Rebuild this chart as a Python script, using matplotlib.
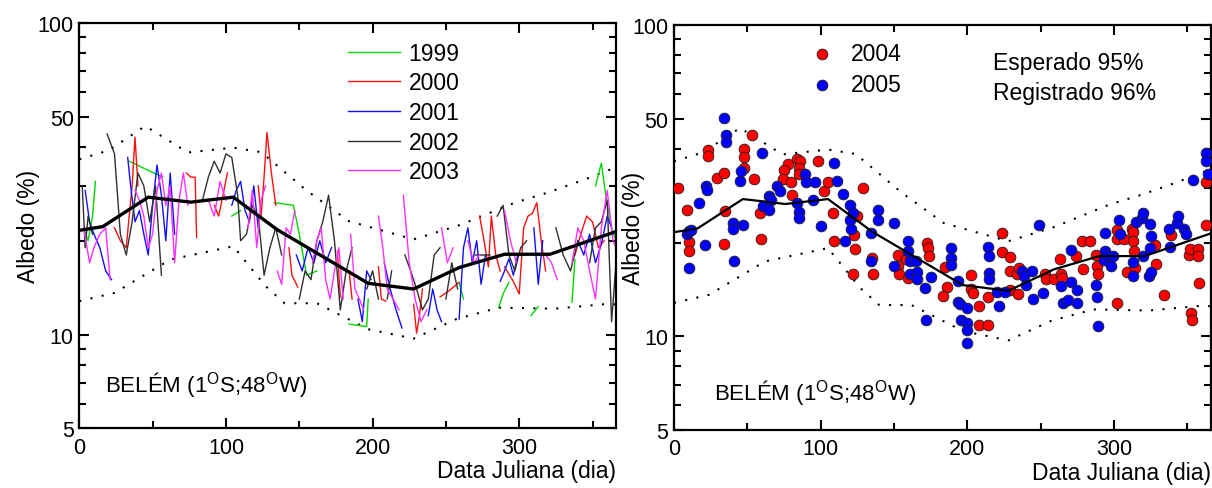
import numpy as np
import matplotlib
matplotlib.use("Agg")
import matplotlib.pyplot as plt
from matplotlib.ticker import FixedLocator, NullFormatter, FixedFormatter

plt.rcParams['font.family'] = ['Liberation Sans', 'DejaVu Sans']
plt.rcParams['mathtext.fontset'] = 'custom'
plt.rcParams['mathtext.rm'] = 'Liberation Sans'

nan = np.nan

# ---- mean curve and envelopes (day, albedo %) ----
mean_days = [0, 16, 47, 76, 105, 135, 197, 228, 259, 290, 321, 366]
mean_vals = [21.6, 22.2, 27.6, 26.6, 27.6, 21.7, 14.6, 14.0, 16.4, 18.1, 18.1, 21.4]

upper_days = [0, 20, 45, 74, 105, 124, 155, 184, 228, 260, 297, 319, 345, 366]
upper_vals = [36.5, 39.0, 46.7, 38.4, 39.8, 38.5, 29.0, 23.1, 20.2, 22.5, 26.5, 28.5, 31.5, 34.4]

lower_days = [0, 24, 62, 105, 127, 140, 162, 197, 228, 257, 286, 324, 357, 366]
lower_vals = [12.8, 13.6, 17.4, 19.2, 14.3, 12.6, 12.6, 10.4, 9.7, 11.2, 12.2, 12.1, 12.5, 12.5]

# ---- left panel: yearly series (NaN = gap) ----
d1999 = [3, 6, 9, 11, nan, 34, 45, 57, nan, 104, 110, nan, 133, 146, 150, 155, 162, nan,
         184, 196, 197, nan, 259, 262, nan, 286, 289, 293, nan, 308, 313, nan, 336, 338, nan,
         352, 356, 359, 363, 366]
v1999 = [22, 20, 24, 31, nan, 36, 34, 32, nan, 24, 25, nan, 26.5, 26, 21, 15.5, 16, nan,
         10.8, 10.6, 13, nan, 14.7, 13, nan, 12.2, 13.5, 14.7, nan, 11.5, 12.3, nan, 12.7, 17.4, nan,
         30, 35.5, 28, 22, 20]

d2000 = [24, 28, 32, 36, 38, 40, nan, 73, 76, 79, 80, nan, 92, 95, 98, 101, nan,
         122, 124, 126, 128, 131, 134, nan, 143, 145, 149, nan, 176, 178, nan, 184, 186, nan,
         204, 206, 209, nan, 228, 230, 232, 234, nan, 246, 252, 259, nan,
         273, 276, 279, 281, 284, 287, nan, 290, 296, 300, 303, 306, 309, 312, 315, 318, nan,
         338, 342, 346, 350, 354, 358]
v2000 = [22, 20, 19, 30, 43, 30, nan, 33, 32, 32, 20.5, nan, 26, 24, 28, 33, nan,
         30, 24, 32, 44.5, 33, 26, nan, 19, 15.5, 14.2, nan, 18.5, 13.2, nan, 16, 13, nan,
         16.5, 13, 12.8, nan, 12.5, 10.1, 11.5, 14, nan, 13.2, 13.8, 14.7, nan,
         24, 20, 16.5, 24, 18, 16, nan, 16.5, 14.8, 13.5, 22, 24, 24.5, 26.5, 20, 16, nan,
         18, 21, 24, 23, 19, 20]

d2001 = [4, 7, 10, 14, 18, 22, nan, 33, 35, 38, 41, 44, 47, 50, 53, 56, 59, 62, 65, nan,
         104, 107, 110, 113, 116, 119, 122, nan, 148, 152, 156, 160, 164, 168, 172, nan,
         190, 193, 196, 199, nan, 208, 212, 216, 220, nan, 238, 241, 244, 247, nan,
         259, 262, 265, 268, 271, 274, 277, nan, 287, 290, 293, 296, 299, nan, 310, 313, 316, nan,
         340, 344, 348, 352, 356, 360, 363]
v2001 = [29, 23, 21, 19, 16, 15, nan, 37, 30, 23, 25, 21, 18, 26, 35, 28, 20, 33, 21, nan,
         26, 29, 31, 25, 23, 30, 22, nan, 18, 16, 19, 17, 20, 17, 19, nan,
         13, 11, 16, 15, nan, 17, 14, 12, 10.5, nan, 11.5, 14, 12, 11, nan,
         11.2, 19, 22, 17, 20, 14.5, 18, nan, 14.8, 16, 17.5, 15.5, 18, nan, 22, 14.5, 20, nan,
         20, 18, 21, 17, 19.5, 24, 22]

d2002 = [2, 4, 6, 9, nan, 19, 24, 28, 32, 36, 40, 44, 48, 52, 56, nan,
         84, 88, 92, 96, 100, 104, 108, 110, 114, 118, 122, 126, 130, 134, 138, nan,
         150, 154, 158, 162, 166, 170, 174, 178, 182, 186, nan, 196, 200, 204, nan, 210, 213, nan,
         222, 226, 230, 234, 238, 242, 246, nan, 250, 254, 258, nan, 270, 275, 280, nan,
         285, 289, 293, 297, 301, 305, nan, 325, 330, 335, 340, nan, 348, 352, 356, 360, 363, 366]
v2002 = [30, 19, 24, 21, nan, 44, 38, 21, 18, 23, 33, 30, 23, 30, 15.5, nan,
         27, 32, 36, 33, 38, 37, 28, 20, 21, 26, 24, 15.5, 19, 22, 18, nan,
         13, 16, 15, 20, 23, 28, 20, 12, 16, 19, nan, 14, 16, 13, nan, 13, 16, nan,
         18, 16, 14, 12, 13, 18, 19, nan, 13, 17, 14, nan, 18, 18, 18, nan,
         24, 26, 18, 16, 19, 20, nan, 22, 18, 16, 20, nan, 17, 22, 23, 27, 11, 17]

d2003 = [3, 7, 10, 14, 18, 21, nan, 38, 41, 44, 47, 50, 53, 56, 59, 62, 65, 68, 71, 74, nan,
         88, 92, 96, 100, nan, 115, 118, 121, 124, 127, nan, 135, 138, 141, 144, 147, nan,
         159, 162, 165, 168, 171, 174, 177, 180, nan, 185, 188, 191, 194, nan,
         204, 207, 210, 214, 218, nan, 221, 225, 229, 233, 237, nan, 247, 251, 255, nan,
         265, 269, 273, nan, 290, 294, 298, nan, 318, 322, 326, nan,
         336, 340, 344, 348, 352, 356, 360, 364, 366]
v2003 = [22, 17, 19, 21, 22, 15, nan, 29, 27, 24, 19, 21, 29, 33, 26, 30, 17, 27, 33, 26, nan,
         27, 24, 31, 27, nan, 22, 29, 19, 27, 30, nan, 16, 14.5, 22, 21, 25, nan,
         17, 20, 22, 15, 13, 16, 19, 13, nan, 21, 14, 13, 12, nan,
         24, 19, 14, 13, 12, nan, 28, 17, 13, 11, 12, nan, 22, 17, 19, nan,
         20, 17, 18, nan, 25, 20, 17, nan, 18, 17, 15, nan,
         17, 22, 20, 16, 13, 22, 29, 20, 19]

years_left = ['1999', '2000', '2001', '2002', '2003']
colors_left = ['#00d800', '#ff1010', '#1010ff', '#303030', '#ff30ff']

# ---- right panel: scatter ----
d2004 = [3, 9, 10, 10, 23.4, 23.4, 29, 34, 35, 34, 47.5, 47.5, 48, 53.5, 54.6, 58.5, 59,
         78, 75, 74, 80, 80.5, 84, 86, 85, 85, 98, 102, 105, 108.7, 109, 122.6, 123.4, 122,
         125, 129, 135, 135.7, 153, 153, 153.5, 158.5, 159.6, 172.7, 173.5, 174, 184.8, 186,
         183.7, 202.6, 202.6, 203.7, 208, 208, 214, 214, 223.6, 223.6, 229, 229.4, 229, 234,
         234.6, 235, 253, 254, 259, 263.5, 264, 264.6, 274, 278, 284, 279, 288, 288.6, 289,
         302, 302, 302, 307, 308.7, 312, 313, 313, 314, 314.5, 328, 328.6, 334, 338.6, 351,
         351.7, 352.8, 353, 357, 357.5, 358, 363, 362.7]
v2004 = [29.9, 25.4, 20.1, 18.8, 39.7, 38.0, 32.2, 33.4, 25.2, 19.8, 40.0, 37.8, 34.7, 44.3,
         32.1, 24.9, 20.6, 35.8, 34.2, 32.1, 31.2, 28.4, 37.2, 36.5, 34.8, 33.2, 36.6, 29.3,
         31.2, 24.9, 20.2, 21.1, 19.1, 15.8, 24.3, 29.9, 17.9, 15.9, 18.2, 16.8, 15.8, 17.7,
         15.4, 19.9, 19.2, 18.1, 16.7, 14.4, 13.5, 15.7, 14.2, 13.8, 12.5, 10.9, 13.4, 10.9,
         21.5, 18.6, 18.0, 16.2, 14.1, 15.8, 13.7, 16.6, 15.8, 15.3, 15.3, 17.7, 15.8, 15.4,
         18.1, 20.3, 20.3, 16.5, 18.2, 16.8, 15.8, 12.8, 21.9, 20.5, 20.5, 16.1, 22.1, 21.7,
         20.3, 18.8, 16.6, 19.6, 17.1, 13.6, 21.1, 18.3, 19.1, 11.9, 11.3, 19.1, 18.1, 14.8,
         31.2, 22.7]

d2005 = [9, 10, 11.5, 10, 17, 21, 22, 22.7, 34, 35.4, 35.4, 40, 40, 41, 45, 46, 47, 60, 61,
         65, 66, 65, 70.5, 72, 84, 85, 85, 89, 90, 96, 95, 100, 109, 111, 115, 116.5, 120, 120,
         121, 122, 134.6, 134.6, 139, 139, 150, 150, 159.6, 159.6, 160.6, 161, 165, 165.5,
         165.5, 171, 171.6, 175.6, 188.7, 189, 189, 194, 193.4, 194.8, 195.5, 199.5, 200, 200,
         199.5, 214, 214.5, 215, 215, 220, 221.5, 225.5, 237, 239, 240, 244.6, 244, 248.6,
         251.7, 263.8, 265, 268.8, 271, 271, 275, 275, 288, 288.6, 289, 293, 294, 294, 295.6,
         298, 299.7, 303.8, 304, 312.8, 313, 315, 319, 320, 320, 324.7, 325.5, 324.7, 324,
         325.5, 337.8, 342.8, 343.6, 338, 347.8, 349, 354, 362.7, 363, 364]
v2005 = [21.3, 21.8, 22.0, 16.6, 26.9, 19.7, 30.5, 29.5, 50.3, 44.3, 42.1, 23.2, 22.1, 17.5,
         31.5, 34.0, 22.7, 38.9, 26.2, 28.2, 27.5, 25.4, 30.5, 29.3, 26.8, 25.1, 23.9, 33.1,
         31.2, 31.2, 27.5, 22.6, 35.9, 31.5, 28.6, 20.2, 26.4, 23.7, 22.1, 24.9, 17.5, 21.5,
         23.6, 25.4, 23.2, 16.8, 20.3, 18.8, 15.9, 17.5, 17.5, 16.1, 15.3, 14.3, 11.3, 15.5,
         19.2, 17.9, 17.0, 15.1, 12.9, 12.7, 11.3, 12.3, 11.0, 10.5, 9.5, 19.4, 18.1, 16.0,
         15.3, 13.9, 12.5, 13.9, 16.2, 15.6, 14.6, 13.2, 16.2, 22.8, 13.8, 14.5, 12.8, 13.1,
         14.9, 19.0, 14.1, 12.8, 14.6, 13.4, 10.8, 17.6, 18.8, 21.5, 18.2, 16.8, 18.1, 23.7,
         21.3, 17.3, 15.6, 23.3, 24.0, 24.9, 18.1, 22.9, 21.0, 19.2, 15.6, 16.1, 22.1, 23.1,
         24.4, 19.3, 22.1, 21.3, 31.7, 38.8, 36.7, 33.2]

location = 'BELÉM (1$^{\\mathrm{O}}$S;48$^{\\mathrm{O}}$W)'

W, H = 1212, 489
fig = plt.figure(figsize=(W / 100, H / 100), dpi=100)

def frac(x0, y0, x1, y1):
    return [x0 / W, 1 - y1 / H, (x1 - x0) / W, (y1 - y0) / H]

axL = fig.add_axes(frac(79.3, 24, 616, 429.3))
axR = fig.add_axes(frac(674, 26, 1210.7, 431))

def style(ax, ylabel_x):
    ax.set_yscale('log')
    ax.set_xlim(0, 366)
    ax.set_ylim(5, 100)
    ax.yaxis.set_major_locator(FixedLocator([5, 10, 50, 100]))
    ax.yaxis.set_major_formatter(FixedFormatter(['5', '10', '50', '100']))
    ax.yaxis.set_minor_locator(FixedLocator([6, 7, 8, 9, 20, 30, 40, 60, 70, 80, 90]))
    ax.yaxis.set_minor_formatter(NullFormatter())
    ax.xaxis.set_major_locator(FixedLocator([0, 100, 200, 300]))
    ax.xaxis.set_minor_locator(FixedLocator([50, 150, 250, 350]))
    ax.tick_params(which='both', direction='in', top=True, right=True, width=1.5,
                   labelsize=15.5)
    ax.tick_params(axis='y', pad=4)
    ax.tick_params(axis='x', pad=6)
    ax.tick_params(which='major', length=7)
    ax.tick_params(which='minor', length=5)
    for s in ax.spines.values():
        s.set_linewidth(1.6)
    ax.set_xlabel('Data Juliana (dia)', fontsize=16.5, loc='right', labelpad=1)
    ax.set_ylabel('Albedo (%)', fontsize=16.5)
    ax.yaxis.set_label_coords(ylabel_x, 0.5)
    ax.plot(upper_days, upper_vals, color='black', lw=1.5, ls=(0, (1, 4.5)))
    ax.plot(lower_days, lower_vals, color='black', lw=1.5, ls=(0, (1, 4.5)))

style(axL, -0.073)
style(axR, -0.054)

series = [(d1999, v1999), (d2000, v2000), (d2001, v2001), (d2002, v2002), (d2003, v2003)]
handles = []
for (d, v), lab, c in zip(series, years_left, colors_left):
    h, = axL.plot(d, v, color=c, lw=1.0, label=lab)
    handles.append(h)
axL.plot(mean_days, mean_vals, color='black', lw=2.4)
axL.legend(handles=handles, loc='upper left', bbox_to_anchor=(0.50, 0.954), frameon=False,
           fontsize=16.5, handlelength=2.3, handletextpad=0.35, labelspacing=0.29,
           borderpad=0, borderaxespad=0)
axL.text(0.048, 0.109, location, transform=axL.transAxes, fontsize=16, va='center', ha='left')

sc1 = axR.scatter(d2004, v2004, s=60, c='#ff0000', edgecolors='#202020', linewidths=0.6,
                  label='2004', zorder=3)
sc2 = axR.scatter(d2005, v2005, s=60, c='#0000ff', edgecolors='#202020', linewidths=0.6,
                  label='2005', zorder=3)
axR.plot(mean_days, mean_vals, color='black', lw=1.6, zorder=4)
axR.legend(handles=[sc1, sc2], loc='upper left', bbox_to_anchor=(0.255, 0.957), frameon=False,
           fontsize=16.5, handlelength=1.0, handletextpad=0.75, labelspacing=0.34,
           borderpad=0, borderaxespad=0, scatterpoints=1)
axR.text(0.594, 0.908, 'Esperado 95%', transform=axR.transAxes, fontsize=16.5, va='center')
axR.text(0.594, 0.834, 'Registrado 96%', transform=axR.transAxes, fontsize=16.5, va='center')
axR.text(0.0745, 0.094, location, transform=axR.transAxes, fontsize=16, va='center', ha='left')

fig.savefig('out.png', dpi=100)
